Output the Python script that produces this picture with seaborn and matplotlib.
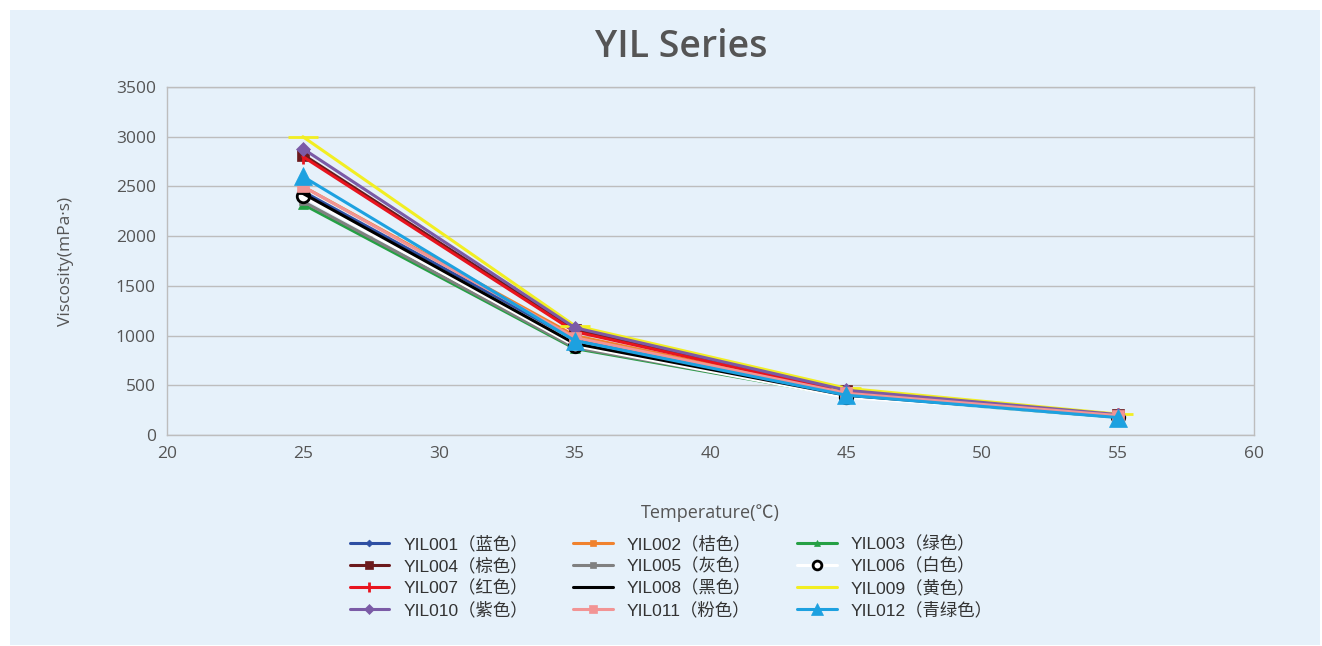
import matplotlib
matplotlib.use("Agg")
import matplotlib.pyplot as plt
import pandas as pd
import seaborn as sns

# temperature points (°C)
temperature = [25, 35, 45, 55]

series_names = [
    "YIL001（蓝色）", "YIL002（桔色）", "YIL003（绿色）",
    "YIL004（棕色）", "YIL005（灰色）", "YIL006（白色）",
    "YIL007（红色）", "YIL008（黑色）", "YIL009（黄色）",
    "YIL010（紫色）", "YIL011（粉色）", "YIL012（青绿色）",
]

# viscosity (mPa·s)
yil001 = [2450, 960, 410, 190]
yil002 = [2500, 1000, 420, 195]
yil003 = [2320, 870, 390, 180]
yil004 = [2820, 1060, 440, 205]
yil005 = [2350, 880, 395, 180]
yil006 = [2400, 900, 380, 185]
yil007 = [2800, 1040, 430, 200]
yil008 = [2430, 920, 400, 185]
yil009 = [3000, 1100, 470, 210]
yil010 = [2880, 1080, 450, 205]
yil011 = [2500, 980, 420, 195]
yil012 = [2600, 950, 400, 175]

all_values = [yil001, yil002, yil003, yil004, yil005, yil006,
              yil007, yil008, yil009, yil010, yil011, yil012]

# (line colour, marker, marker size, marker face, marker edge)
STYLES = [
    ("#2E4FA3", "D", 5, "#2E4FA3", "#2E4FA3"),
    ("#F0822E", "s", 7, "#F0822E", "#F0822E"),
    ("#25A044", "^", 7, "#25A044", "#25A044"),
    ("#6B1A1C", "s", 8, "#6B1A1C", "#6B1A1C"),
    ("#808080", "s", 6, "#808080", "#808080"),
    ("#FFFFFF", "o", 9, "#FFFFFF", "#000000"),
    ("#E8141E", "|", 10, "#E8141E", "#E8141E"),
    ("#000000", "_", 8, "#000000", "#000000"),
    ("#F2EE22", "_", 22, "#F2EE22", "#F2EE22"),
    ("#7B5BA6", "D", 7, "#7B5BA6", "#7B5BA6"),
    ("#F29494", "s", 8, "#F29494", "#F29494"),
    ("#1DA1E0", "^", 13, "#1DA1E0", "#1DA1E0"),
]

BG = "#E6F1FA"
GRID = "#BDBDBD"
TEXT = "#555555"

sns.set_theme(style="white")
plt.rcParams["font.family"] = ["Open Sans", "Noto Sans CJK SC", "DejaVu Sans"]

fig = plt.figure(figsize=(13.22, 6.46), dpi=100)
fig.patch.set_facecolor("white")

# light blue panel behind everything
bg = fig.add_axes([10 / 1322, 1 / 646, 1310 / 1322, 635 / 646], zorder=-1)
bg.set_facecolor(BG)
bg.set_xticks([])
bg.set_yticks([])
for sp in bg.spines.values():
    sp.set_visible(False)

ax = fig.add_axes([167 / 1322, 1 - 435 / 646, (1254 - 167) / 1322, (435 - 87) / 646])
ax.set_facecolor(BG)

for name, vals, (col, mk, ms, mfc, mec) in zip(series_names, all_values, STYLES):
    df = pd.DataFrame({"Temperature": temperature, "Viscosity": vals})
    sns.lineplot(data=df, x="Temperature", y="Viscosity", ax=ax, color=col,
                 linewidth=2.2, marker=mk, markersize=ms, markerfacecolor=mfc,
                 markeredgecolor=mec, markeredgewidth=2 if mk in "|_o" else 0.5,
                 label=name)

ax.set_xlim(20, 60)
ax.set_ylim(0, 3500)
ax.set_xticks(range(20, 61, 5))
ax.set_yticks(range(0, 3501, 500))
ax.yaxis.grid(True, color=GRID, linewidth=1)
ax.xaxis.grid(False)
for sp in ax.spines.values():
    sp.set_color(GRID)
    sp.set_linewidth(1)
ax.tick_params(axis="both", length=0, labelsize=12.5, labelcolor=TEXT, pad=8)

ax.set_xlabel("Temperature(℃)", fontsize=13, color=TEXT, labelpad=30)
ax.set_ylabel("Viscosity(mPa·s)", fontsize=12.5, color=TEXT, labelpad=30)
fig.text(0.515, 1 - 47 / 646, "YIL Series", ha="center", va="center",
         fontsize=27, color=TEXT, fontweight="semibold")

h, l = ax.get_legend_handles_labels()
order = [0, 3, 6, 9, 1, 4, 7, 10, 2, 5, 8, 11]
leg = ax.legend([h[i] for i in order], [l[i] for i in order], ncol=3,
                loc="center", bbox_to_anchor=(671 / 1322, 1 - 577 / 646),
                bbox_transform=fig.transFigure, frameon=False,
                labelspacing=0.3, columnspacing=2.6, markerscale=0.7,
                handlelength=2.3, handletextpad=0.8,
                prop={"family": ["Liberation Sans", "Noto Sans CJK SC", "DejaVu Sans"],
                      "size": 12.5})
for t in leg.get_texts():
    t.set_color("#333333")

fig.savefig("out.png", dpi=100, facecolor=fig.get_facecolor())
